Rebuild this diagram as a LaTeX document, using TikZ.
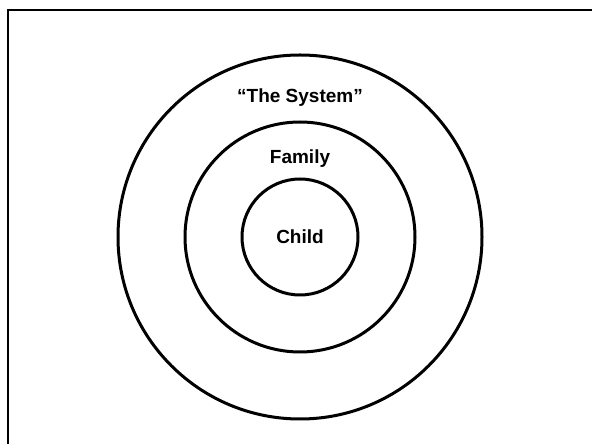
\documentclass[tikz,border=0pt]{standalone}
\usepackage{fontspec}
\setmainfont{Liberation Sans}
\begin{document}
\begin{tikzpicture}[x=1pt, y=1pt, line width=3pt,
  ringlabel/.style={anchor=base, font=\fontsize{19}{22}\selectfont\bfseries}]
  \useasboundingbox (0,0) rectangle (592,444);
  % frame
  \draw[line width=2.5pt] (8,0) -- (8,434) -- (592,434);
  % rings
  \draw (300,207) circle (182);
  \draw (300,207) circle (115);
  \draw (300,207) circle (58);
  % labels
  \node[ringlabel] (system) at (300,341) {“The System”};
  \node[ringlabel] (family) at (300,280) {Family};
  \node[ringlabel] (child) at (300,200) {Child};
\end{tikzpicture}
\end{document}
